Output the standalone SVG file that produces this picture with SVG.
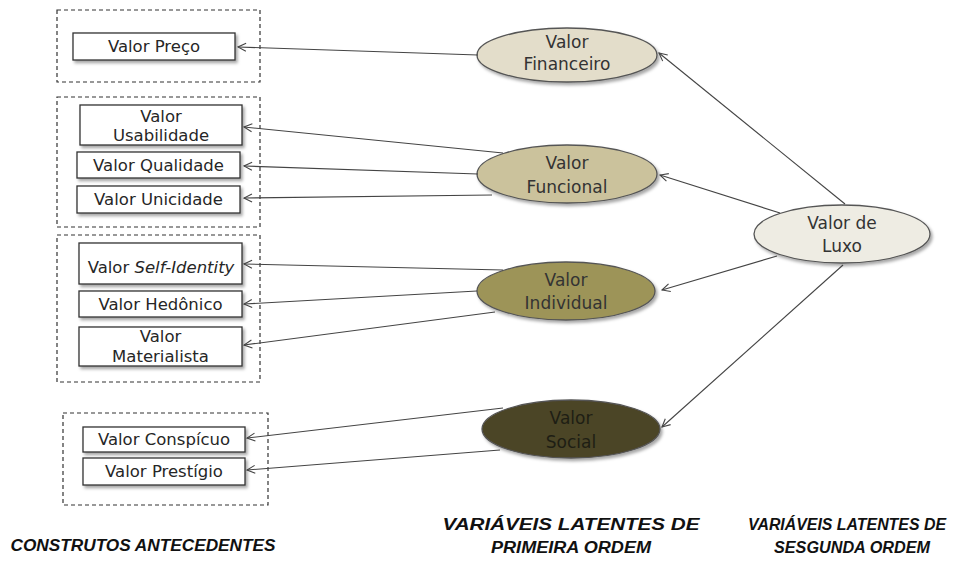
<svg xmlns="http://www.w3.org/2000/svg" width="954" height="561" viewBox="0 0 954 561">
<style>
.grp{fill:none;stroke:#333;stroke-width:1.2;stroke-dasharray:4,3}
.box{fill:#fff;stroke:#333;stroke-width:1.3;filter:url(#sh)}
.ell{stroke:#555;stroke-width:1.3;filter:url(#sh)}
.t{font-family:"DejaVu Sans",sans-serif;font-size:16.5px;fill:#262626;text-anchor:middle}
.te{font-family:"DejaVu Sans",sans-serif;font-size:17px;fill:#333;text-anchor:middle}
.lab{font-family:"Liberation Sans",Arial,sans-serif;font-size:16px;font-weight:bold;font-style:italic;fill:#111;text-anchor:middle}
.c line{stroke:#444;stroke-width:1.1;marker-end:url(#ah)}
</style>
<defs>
<filter id="sh" x="-10%" y="-20%" width="125%" height="150%">
<feDropShadow dx="2" dy="2.5" stdDeviation="1.5" flood-color="#000" flood-opacity="0.35"/>
</filter>
<marker id="ah" viewBox="0 0 10 10" refX="9" refY="5" markerWidth="10" markerHeight="10" markerUnits="userSpaceOnUse" orient="auto">
<path d="M1,1 L9,5 L1,9" fill="none" stroke="#444" stroke-width="1.1"/>
</marker>
</defs>
<rect width="954" height="561" fill="#fff"/>

<g id="grupo1"><rect class="grp" x="57" y="10" width="203" height="72"/></g>
<g id="grupo2"><rect class="grp" x="57" y="97" width="203" height="130"/></g>
<g id="grupo3"><rect class="grp" x="57" y="235" width="203" height="147"/></g>
<g id="grupo4"><rect class="grp" x="63" y="413" width="205" height="92"/></g>

<g id="preco"><rect class="box" x="73" y="33" width="162" height="27"/><text class="t" x="154" y="52">Valor Preço</text></g>
<g id="usabilidade"><rect class="box" x="80" y="105" width="162" height="40"/><text class="t" x="161" y="122">Valor</text><text class="t" x="161" y="141">Usabilidade</text></g>
<g id="qualidade"><rect class="box" x="77" y="152" width="163" height="26"/><text class="t" x="158.5" y="171">Valor Qualidade</text></g>
<g id="unicidade"><rect class="box" x="77" y="186" width="163" height="27"/><text class="t" x="158.5" y="205">Valor Unicidade</text></g>
<g id="selfidentity"><rect class="box" x="79" y="243" width="163" height="41"/><text class="t" x="161" y="273">Valor <tspan font-style="italic">Self-Identity</tspan></text></g>
<g id="hedonico"><rect class="box" x="79" y="291" width="163" height="26"/><text class="t" x="160.5" y="310">Valor Hedônico</text></g>
<g id="materialista"><rect class="box" x="79" y="327" width="163" height="39"/><text class="t" x="160.5" y="342">Valor</text><text class="t" x="160.5" y="362">Materialista</text></g>
<g id="conspicuo"><rect class="box" x="83" y="427" width="162" height="25"/><text class="t" x="164" y="445">Valor Conspícuo</text></g>
<g id="prestigio"><rect class="box" x="83" y="458" width="162" height="27"/><text class="t" x="164" y="477">Valor Prestígio</text></g>

<g id="financeiro"><ellipse class="ell" cx="567" cy="55" rx="90" ry="27" fill="#e3ddca"/><text class="te" x="567" y="48">Valor</text><text class="te" x="567" y="70">Financeiro</text></g>
<g id="funcional"><ellipse class="ell" cx="567" cy="174" rx="90" ry="29" fill="#cbc29c"/><text class="te" x="567" y="169">Valor</text><text class="te" x="567" y="193">Funcional</text></g>
<g id="individual"><ellipse class="ell" cx="566" cy="291" rx="89" ry="29" fill="#9d9459"/><text class="te" x="566" y="286">Valor</text><text class="te" x="566" y="309">Individual</text></g>
<g id="social"><ellipse class="ell" cx="571" cy="429" rx="89" ry="29" fill="#4c4428"/><text class="te" x="571" y="424" style="fill:#1e1e14">Valor</text><text class="te" x="571" y="448" style="fill:#1e1e14">Social</text></g>
<g id="luxo"><ellipse class="ell" cx="842" cy="234" rx="88" ry="29" fill="#eeece3"/><text class="te" x="842" y="229">Valor de</text><text class="te" x="842" y="252">Luxo</text></g>

<g id="conectores" class="c">
<line x1="478" y1="55" x2="238" y2="47"/>
<line x1="503" y1="153" x2="244" y2="127"/>
<line x1="478" y1="174" x2="244" y2="166"/>
<line x1="492" y1="195" x2="244" y2="198"/>
<line x1="503" y1="270" x2="244" y2="264"/>
<line x1="477" y1="291" x2="244" y2="304"/>
<line x1="495" y1="312" x2="244" y2="345"/>
<line x1="503" y1="408" x2="247" y2="438"/>
<line x1="500" y1="450" x2="247" y2="470"/>
<line x1="845" y1="204" x2="659" y2="53"/>
<line x1="780" y1="213" x2="660" y2="175"/>
<line x1="777" y1="256" x2="662" y2="290"/>
<line x1="843" y1="265" x2="662" y2="427"/>
</g>

<g id="legendas">
<text class="lab" x="143" y="551" textLength="265" lengthAdjust="spacingAndGlyphs">CONSTRUTOS ANTECEDENTES</text>
<text class="lab" x="571" y="530" textLength="257" lengthAdjust="spacingAndGlyphs">VARIÁVEIS LATENTES DE</text>
<text class="lab" x="571" y="553" textLength="160" lengthAdjust="spacingAndGlyphs">PRIMEIRA ORDEM</text>
<text class="lab" x="847" y="530" textLength="198" lengthAdjust="spacingAndGlyphs">VARIÁVEIS LATENTES DE</text>
<text class="lab" x="852" y="553" textLength="156" lengthAdjust="spacingAndGlyphs">SESGUNDA  ORDEM</text>
</g>
</svg>
